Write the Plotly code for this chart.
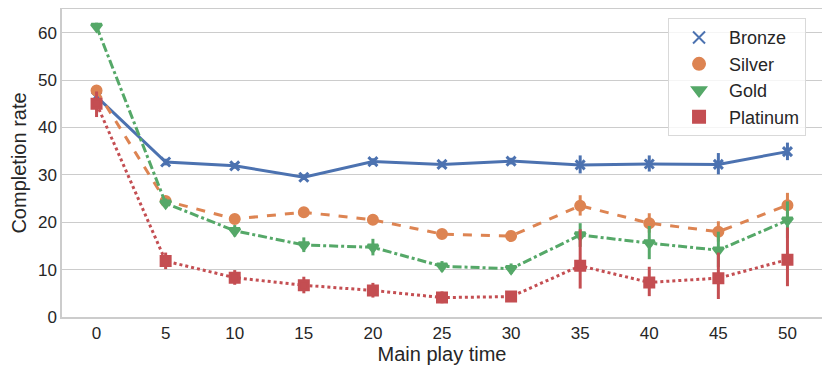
import plotly.graph_objects as go

# play time buckets
play_time = [0, 5, 10, 15, 20, 25, 30, 35, 40, 45, 50]

tiers = ["Bronze", "Silver", "Gold", "Platinum"]

bronze = [46.5, 32.7, 31.9, 29.5, 32.8, 32.2, 32.9, 32.1, 32.3, 32.2, 34.9]
silver = [47.8, 24.5, 20.7, 22.1, 20.5, 17.5, 17.1, 23.5, 19.8, 18.0, 23.6]
gold = [61.3, 24.0, 18.2, 15.2, 14.7, 10.7, 10.2, 17.3, 15.6, 14.1, 20.4]
platinum = [45.0, 11.8, 8.3, 6.7, 5.6, 4.1, 4.3, 10.8, 7.3, 8.2, 12.1]

# confidence interval half-widths (upper, lower)
bronze_up = [1.0, 0.7, 0.6, 0.6, 0.7, 0.6, 0.7, 2.0, 1.8, 2.4, 1.9]
bronze_lo = [1.0, 0.7, 0.6, 0.6, 0.7, 0.6, 0.7, 1.8, 1.6, 2.1, 1.8]
silver_up = [0.9, 0.8, 0.8, 0.8, 0.9, 0.9, 1.1, 2.2, 2.1, 2.2, 2.6]
silver_lo = [0.9, 0.8, 0.8, 0.8, 0.9, 0.9, 1.1, 2.1, 2.0, 2.1, 2.4]
gold_up = [0.8, 1.0, 1.2, 1.6, 1.8, 1.1, 1.1, 2.5, 3.6, 3.9, 4.0]
gold_lo = [0.8, 1.0, 1.2, 1.5, 1.7, 1.1, 1.1, 2.5, 3.4, 3.6, 3.8]
plat_up = [2.6, 1.8, 1.6, 1.8, 1.6, 1.3, 0.9, 7.7, 3.3, 5.4, 6.8]
plat_lo = [2.8, 1.7, 1.5, 1.7, 1.5, 1.2, 0.8, 4.8, 2.9, 4.4, 5.6]

colors = ["#4C72B0", "#DD8452", "#55A868", "#C44E52"]
dashes = ["solid", "dash", "dashdot", "dot"]
symbols = ["x-thin-open", "circle", "triangle-down", "square"]

series = [bronze, silver, gold, platinum]
ups = [bronze_up, silver_up, gold_up, plat_up]
los = [bronze_lo, silver_lo, gold_lo, plat_lo]

fig = go.Figure()

for name, vals, up, lo, col, dash, sym in zip(tiers, series, ups, los, colors, dashes, symbols):
    fig.add_trace(go.Scatter(
        x=play_time, y=vals, mode="lines+markers", name=name, showlegend=False,
        line=dict(color=col, width=3, dash=dash),
        marker=dict(symbol=sym, size=9, color=col, line=dict(color=col, width=3)),
        error_y=dict(type="data", array=up, arrayminus=lo, color=col, thickness=3, width=0),
    ))

# legend entries: markers only
for name, col, sym in zip(tiers, colors, symbols):
    fig.add_trace(go.Scatter(
        x=[None], y=[None], mode="markers", name=name,
        marker=dict(symbol=sym, size=8 if sym.startswith("x") else 10, color=col,
                    line=dict(color=col, width=3)),
    ))

# page body has an 8px default margin, so the figure margins are shifted by that
fig.update_layout(
    width=830, height=376,
    margin=dict(l=54, r=16, t=1, b=67),
    plot_bgcolor="white", paper_bgcolor="white",
    font=dict(family="Liberation Sans, Arial, sans-serif", size=17, color="#262626"),
    legend=dict(x=0.979, y=0.97, xanchor="right", yanchor="top",
                bgcolor="rgba(255,255,255,0.8)", bordercolor="#d9d9d9", borderwidth=1,
                font=dict(size=18), itemsizing="constant", itemwidth=50, tracegroupgap=0),
    xaxis=dict(title=dict(text="Main play time", font=dict(size=20), standoff=4),
               range=[-2.5, 52.5], tickvals=play_time, showgrid=False, zeroline=False,
               showline=True, mirror=True, linecolor="#cccccc", linewidth=1.5, ticks="",
               automargin=False),
    yaxis=dict(title=dict(text="Completion rate", font=dict(size=20), standoff=6),
               range=[0, 65], tickvals=[0, 10, 20, 30, 40, 50, 60], showgrid=True,
               gridcolor="#cccccc", gridwidth=1.3, zeroline=False,
               showline=True, mirror=True, linecolor="#cccccc", linewidth=1.5, ticks="",
               automargin=False),
)

fig.write_html("out.html")
